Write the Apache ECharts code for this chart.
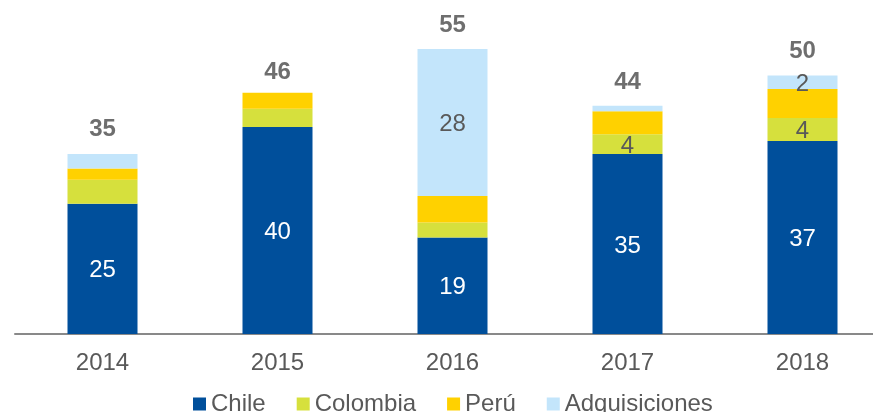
<!DOCTYPE html>
<html>
<head>
<meta charset="utf-8">
<script src="https://cdn.jsdelivr.net/npm/echarts@6/dist/echarts.min.js"></script>
<style>
  html, body { margin: 0; padding: 0; background: #fff; overflow: hidden; }
  /* the plot runs past the right edge of the picture, as in the original */
  #chart { width: 890px; height: 412px; }
</style>
</head>
<body>
<div id="chart"></div>
<script>
const years = ["2014", "2015", "2016", "2017", "2018"];
const chile = [25.1, 39.9, 18.6, 34.7, 37.2];
const colombia = [4.6, 3.5, 2.9, 3.8, 4.4];
const peru = [2.2, 3.1, 5.1, 4.4, 5.6];
const adquisiciones = [2.8, 0, 28.3, 1.1, 2.6];
const totals = [35, 46, 55, 44, 50];

// only some segments carry a label in the original
const chileLabels = ["25", "40", "19", "35", "37"];
const colombiaLabels = ["", "", "", "4", "4"];
const peruLabels = ["", "", "", "", ""];
const adqLabels = ["", "", "28", "", "2"];

const chart = echarts.init(document.getElementById("chart"));

const font = "Liberation Sans, Arial, sans-serif";

function stackSeries(name, data, labels, color, labelColor) {
  return {
    name: name,
    type: "bar",
    stack: "total",
    barWidth: 70,
    data: data,
    itemStyle: { color: color },
    label: {
      show: true,
      position: "inside",
      offset: [0, 2],
      color: labelColor,
      fontSize: 24,
      fontFamily: font,
      formatter: p => labels[p.dataIndex]
    },
    emphasis: { disabled: true }
  };
}

const options = {
  animation: false,
  textStyle: { fontFamily: font },
  grid: { left: 15, right: 0, top: 22.6, bottom: 78 },
  legend: {
    top: 392,
    left: 193,
    padding: 0,
    itemWidth: 13,
    itemHeight: 13,
    itemGap: 31,
    icon: "rect",
    textStyle: { fontSize: 24, color: "#595959", fontFamily: font },
    data: ["Chile", "Colombia", "Perú", "Adquisiciones"]
  },
  xAxis: {
    type: "category",
    data: years,
    axisLine: { lineStyle: { color: "#898989", width: 2 } },
    axisTick: { show: false },
    axisLabel: { color: "#595959", fontSize: 24, margin: 17, fontFamily: font }
  },
  yAxis: {
    type: "value",
    min: 0,
    max: 60,
    show: false,
    splitLine: { show: false }
  },
  series: [
    stackSeries("Chile", chile, chileLabels, "#004F9B", "#ffffff"),
    stackSeries("Colombia", colombia, colombiaLabels, "#D6E03D", "#595959"),
    stackSeries("Perú", peru, peruLabels, "#FFD100", "#595959"),
    stackSeries("Adquisiciones", adquisiciones, adqLabels, "#C3E5FB", "#595959"),
    {
      name: "Total",
      type: "scatter",
      data: totals,
      symbolSize: 0,
      silent: true,
      label: {
        show: true,
        position: "top",
        distance: 11,
        color: "#4a4a4a",
        fontSize: 24,
        fontWeight: "bold",
        fontFamily: font,
        formatter: p => totals[p.dataIndex]
      }
    }
  ]
};

chart.setOption(options);
</script>
</body>
</html>
